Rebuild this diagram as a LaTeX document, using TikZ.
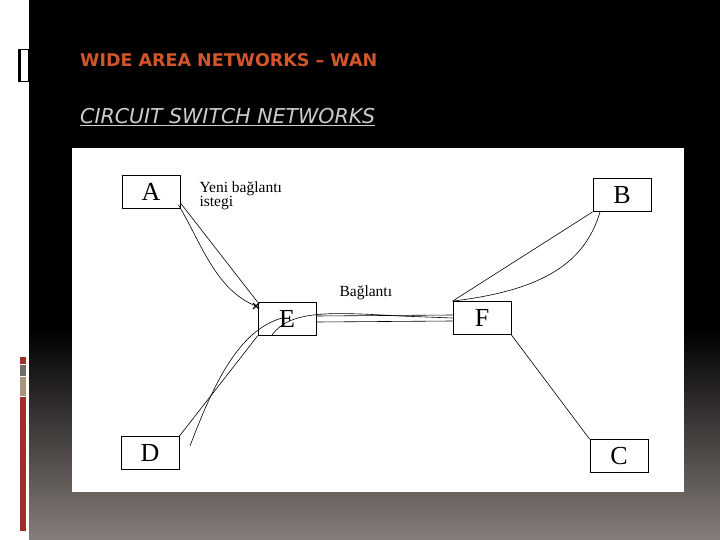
\documentclass[tikz,border=0pt]{standalone}
\usepackage{fontspec}
\setmainfont{Liberation Serif}
\newfontfamily\slidefont{DejaVu Sans}
\definecolor{ttl}{HTML}{D2562C}
\definecolor{bot}{HTML}{867E7A}
\definecolor{dred}{HTML}{9E2E26}
\definecolor{dgray}{HTML}{6F6B67}
\definecolor{dtan}{HTML}{A8957A}
\begin{document}
\begin{tikzpicture}[x=1pt,y=-1pt,
  box/.style={draw,line width=0.8pt,minimum width=58pt,minimum height=33pt,inner sep=0pt,font=\fontsize{26}{26}\selectfont},
  wire/.style={line width=0.6pt},
  lbl/.style={font=\fontsize{15.5}{15}\selectfont,align=left,anchor=north west}]
\useasboundingbox (0,0) rectangle (720,540);
\fill[white] (0,0) rectangle (720,540);
\fill[black] (29,0) rectangle (720,330);
\shade[top color=black,bottom color=bot] (29,330) rectangle (720,540);
% left decoration
\draw[line width=1pt] (18,50) rectangle (28,82);
\fill[black] (18,50) rectangle (21,82);
\fill[dred] (20,357) rectangle (26,364);
\fill[dgray] (20,365) rectangle (26,376);
\fill[dtan] (20,377) rectangle (26,396);
\fill[dred] (20,397) rectangle (26,531);
% titles
\node[anchor=west,text=ttl,inner sep=0pt,font=\slidefont\bfseries\fontsize{17.5}{17}\selectfont] (t1) at (80,60) {WIDE AREA NETWORKS – WAN};
\node[anchor=west,text=white!80!black,inner sep=0pt,font=\slidefont\itshape\fontsize{20.5}{20}\selectfont] (t2) at (80,117) {\underline{CIRCUIT SWITCH NETWORKS}};
% panel
\fill[white] (72,148) rectangle (684,492);
\node[box] (A) at (151,192) {A};
\node[box] (B) at (622,195) {B};
\node[box] (E) at (287,319) {E};
\node[box] (F) at (482,318) {F};
\node[box] (D) at (150,453) {D};
\node[box] (C) at (619,456) {C};
\node[lbl] (y) at (196,178) {Yeni bağlantı\\[-1pt]istegi};
\node[lbl] (bl) at (336,282) {Bağlantı};
% connectors
\draw[wire] (A.south east) ++(0,-6) -- (E.north west);
\draw[wire] (A.south east) ++(-2,-4) .. controls (200,240) and (215,290) .. (256,306) coordinate (x);
\draw[line width=1.4pt] (x) ++(-3,-3) -- ++(6,6) (x) ++(-3,3) -- ++(6,-6);
\draw[wire] ([yshift=-3pt]E.east) -- ([yshift=-3pt]F.west);
\draw[wire] ([yshift=3pt]E.east) -- ([yshift=3pt]F.west);
\draw[wire] (272,335) .. controls (290,310) and (330,312) .. (400,316) -- (F.west);
\draw[wire] (E.south west) -- (D.north east);
\draw[wire] (190,446) .. controls (215,380) and (240,330) .. (282,318);
\draw[wire] (F.north west) -- (B.south west);
\draw[wire] (F.north west) .. controls (545,290) and (585,262) .. (600,212);
\draw[wire] (F.south east) -- (C.north west);
\end{tikzpicture}
\end{document}
